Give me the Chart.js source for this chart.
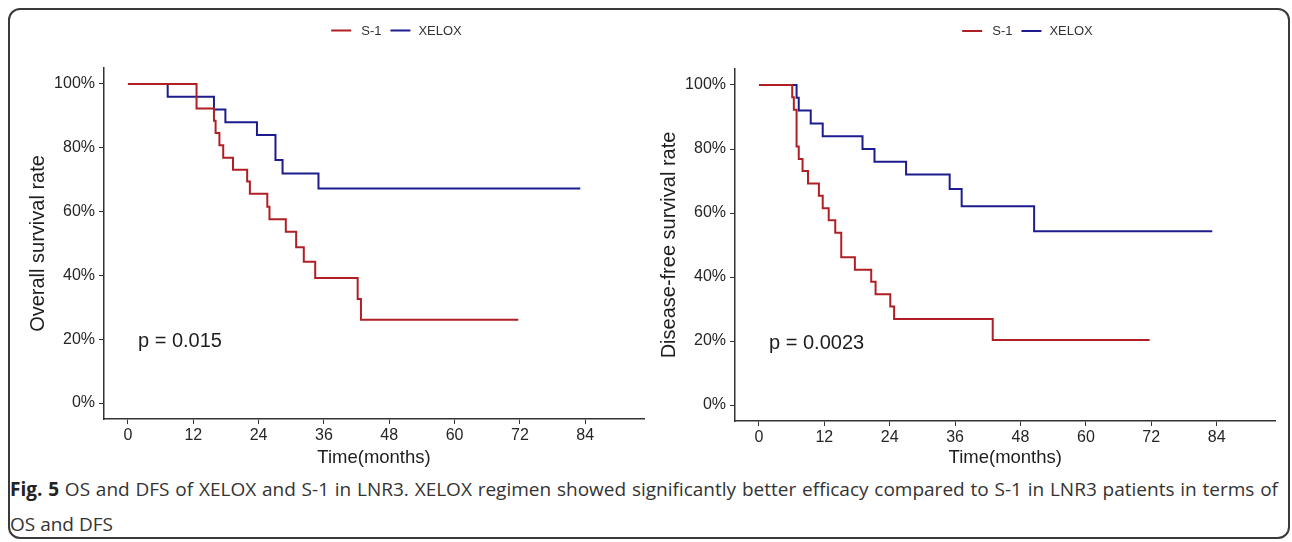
<!DOCTYPE html>
<html>
<head>
<meta charset="utf-8">
<script src="https://cdn.jsdelivr.net/npm/chart.js@4.4.1/dist/chart.umd.min.js"></script>
<style>
  html, body { margin:0; padding:0; background:#fff; width:1292px; height:542px; overflow:hidden; }
  #frame { position:absolute; left:8px; top:8px; width:1282px; height:531px; border:2px solid #3a3a3a; border-radius:12px; box-sizing:border-box; }
  .wrap { position:absolute; top:0; }
  #caption { position:absolute; left:10px; top:472px; width:1268px; font-family:"Open Sans", sans-serif; font-size:19px; line-height:35px; color:#333; }
  #caption .l1 { text-align:justify; text-align-last:justify; white-space:nowrap; }
  #caption b { font-weight:700; color:#222; }
</style>
</head>
<body>
<div id="frame"></div>
<div class="wrap" style="left:0px;"><canvas id="os" width="660" height="469"></canvas></div>
<div class="wrap" style="left:631px;"><canvas id="dfs" width="661" height="469"></canvas></div>
<div id="caption"><div class="l1"><b>Fig. 5</b> OS and DFS of XELOX and S-1 in LNR3. XELOX regimen showed significantly better efficacy compared to S-1 in LNR3 patients in terms of</div><div>OS and DFS</div></div>

<script>
// ---------- DATA ----------
const seriesNames = ['S-1', 'XELOX'];
const xTicks = [0, 12, 24, 36, 48, 60, 72, 84];
const yTicks = [0, 20, 40, 60, 80, 100];

// Overall survival (months, %)
const osTimeS1  = [0, 12.6, 15.8, 16.1, 16.8, 17.5, 19.3, 21.9, 22.4, 25.6, 26.0, 29.0, 30.9, 32.3, 34.4, 42.2, 42.8, 71.7];
const osSurvS1  = [100, 92.3, 88.5, 84.6, 80.8, 76.9, 73.1, 69.4, 65.6, 61.5, 57.6, 53.7, 48.8, 44.3, 39.2, 32.6, 26.1, 26.1];
const osTimeXel = [0, 7.3, 15.8, 17.9, 23.7, 27.1, 28.4, 35.0, 83.1];
const osSurvXel = [100, 96, 92, 88, 84, 76.2, 71.9, 67.2, 67.2];

// Disease-free survival (months, %)
const dfsTimeS1  = [0, 6.1, 6.4, 6.9, 7.3, 8.0, 9.0, 11.0, 11.7, 12.8, 14.0, 15.1, 17.6, 20.6, 21.4, 24.1, 24.8, 42.9, 71.7];
const dfsSurvS1  = [100, 96.2, 92.3, 80.8, 76.9, 73.1, 69.2, 65.4, 61.5, 57.7, 53.8, 46.2, 42.3, 38.5, 34.6, 30.8, 26.9, 20.3, 20.3];
const dfsTimeXel = [0, 6.9, 7.3, 9.5, 11.7, 19.0, 21.2, 27.0, 35.0, 37.2, 50.5, 83.2];
const dfsSurvXel = [100, 96, 92, 88, 84, 80, 76, 72, 67.5, 62.1, 54.3, 54.3];

const pValues = ['p = 0.015', 'p = 0.0023'];
const pAnchor = { x: 1.85, y: 19.3 };

// ---------- STYLE ----------
const RED = '#B01F24';
const BLUE = '#1C1C8E';
const FONT = '"Liberation Sans", Arial, sans-serif';
const AXIS = '#333333';

function pts(t, s) { return t.map((v, i) => ({ x: v, y: s[i] })); }

const overlay = {
  id: 'overlay',
  afterDraw(chart, args, opts) {
    const ctx = chart.ctx;
    ctx.save();
    ctx.font = '13px ' + FONT;
    ctx.textBaseline = 'middle';
    ctx.textAlign = 'left';
    const lw = 20, g1 = 10, g2 = 9, g3 = 8;
    const w1 = ctx.measureText(seriesNames[0]).width;
    const w2 = ctx.measureText(seriesNames[1]).width;
    const total = lw + g1 + w1 + g2 + lw + g3 + w2;
    let x = opts.legendCx - total / 2;
    const y = opts.legendY;
    ctx.lineWidth = 2;
    ctx.strokeStyle = RED;
    ctx.beginPath(); ctx.moveTo(x, y); ctx.lineTo(x + lw, y); ctx.stroke();
    x += lw + g1;
    ctx.fillStyle = '#333';
    ctx.fillText(seriesNames[0], x, y + 0.5);
    x += w1 + g2;
    ctx.strokeStyle = BLUE;
    ctx.beginPath(); ctx.moveTo(x, y); ctx.lineTo(x + lw, y); ctx.stroke();
    x += lw + g3;
    ctx.fillText(seriesNames[1], x, y + 0.5);
    const xs = chart.scales.x, ys = chart.scales.y;
    ctx.font = '20px ' + FONT;
    ctx.fillStyle = '#1e1e1e';
    ctx.fillText(opts.pText, xs.getPixelForValue(pAnchor.x), ys.getPixelForValue(pAnchor.y));
    ctx.restore();
  }
};

function makeChart(id, s1, xel, yTitle, pText, cfg) {
  return new Chart(document.getElementById(id), {
    type: 'line',
    data: {
      datasets: [
        { label: seriesNames[0], data: s1, borderColor: RED, borderWidth: 2, stepped: true, pointRadius: 0, fill: false },
        { label: seriesNames[1], data: xel, borderColor: BLUE, borderWidth: 2, stepped: true, pointRadius: 0, fill: false }
      ]
    },
    options: {
      responsive: false,
      animation: false,
      events: [],
      layout: { padding: { left: 0, right: cfg.padRight, top: cfg.padTop, bottom: 0 } },
      plugins: {
        legend: { display: false },
        tooltip: { enabled: false },
        overlay: { legendCx: 396.5, legendY: cfg.legendY, pText: pText }
      },
      scales: {
        x: {
          type: 'linear', min: -4.4, max: 94.8,
          afterBuildTicks: a => { a.ticks = xTicks.map(v => ({ value: v })); },
          afterFit: s => { s.height = cfg.xHeight; },
          grid: { drawOnChartArea: false, drawTicks: true, tickLength: 5, color: AXIS, lineWidth: 1 },
          border: { display: true, color: AXIS, width: 1.5 },
          ticks: { font: { family: FONT, size: 16 }, color: '#262626', padding: 2, maxRotation: 0, autoSkip: false, callback: v => String(v) },
          title: { display: true, text: 'Time(months)', font: { family: FONT, size: 18.5 }, color: '#1e1e1e', padding: 0 }
        },
        y: {
          type: 'linear', min: -5, max: 105,
          afterBuildTicks: a => { a.ticks = yTicks.map(v => ({ value: v })); },
          afterFit: s => { s.width = 104; },
          grid: { drawOnChartArea: false, drawTicks: true, tickLength: 5, color: AXIS, lineWidth: 1 },
          border: { display: true, color: AXIS, width: 1.5 },
          ticks: { font: { family: FONT, size: 16 }, color: '#262626', padding: 4, callback: v => v + '%' },
          title: { display: true, text: yTitle, font: { family: FONT, size: 20 }, color: '#1e1e1e', padding: { top: 26, bottom: 0 } }
        }
      }
    },
    plugins: [overlay]
  });
}

makeChart('os', pts(osTimeS1, osSurvS1), pts(osTimeXel, osSurvXel), 'Overall survival rate', pValues[0],
  { padRight: 16, padTop: 68, xHeight: 469 - 419, legendY: 30.5 });
makeChart('dfs', pts(dfsTimeS1, dfsSurvS1), pts(dfsTimeXel, dfsSurvXel), 'Disease-free survival rate', pValues[1],
  { padRight: 16.5, padTop: 69, xHeight: 469 - 421, legendY: 31 });
</script>
</body>
</html>
